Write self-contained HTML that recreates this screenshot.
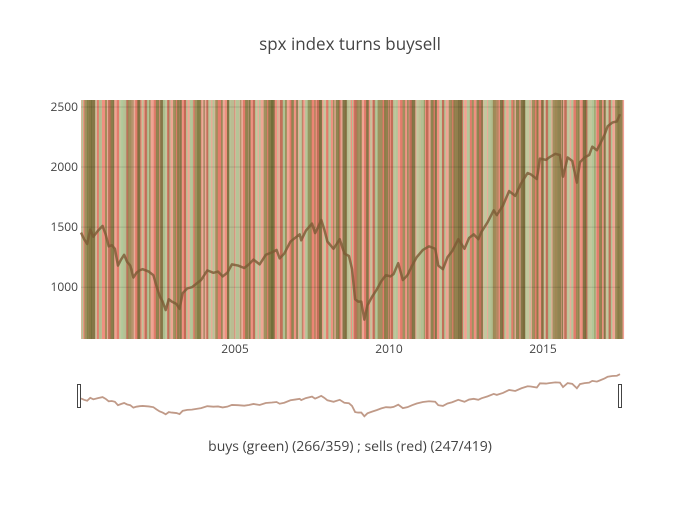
<!DOCTYPE html>
<html><head><meta charset="utf-8"><style>
body{margin:0;background:#fff;font-family:"Liberation Sans",sans-serif}
svg text{font-family:"Open Sans","Liberation Sans",sans-serif;fill:#444}
</style></head><body>
<svg id="c" width="700" height="500">
<text x="350" y="50" text-anchor="middle" font-size="17">spx index turns buysell</text>
<g id="plot"></g>
<text x="350" y="451" text-anchor="middle" font-size="14">buys (green) (266/359) ; sells (red) (247/419)</text>
</svg>
<script>
const priceDates=[2000.0,2000.1,2000.2,2000.3,2000.4,2000.55,2000.7,2000.8,2000.9,2001.0,2001.1,2001.2,2001.3,2001.4,2001.5,2001.6,2001.7,2001.8,2001.9,2002.0,2002.2,2002.35,2002.45,2002.55,2002.65,2002.75,2002.85,2002.95,2003.1,2003.2,2003.3,2003.45,2003.6,2003.75,2003.9,2004.1,2004.3,2004.45,2004.6,2004.75,2004.9,2005.1,2005.3,2005.45,2005.6,2005.8,2006.0,2006.2,2006.35,2006.45,2006.6,2006.8,2006.95,2007.1,2007.15,2007.3,2007.5,2007.6,2007.7,2007.8,2007.9,2008.0,2008.2,2008.4,2008.55,2008.7,2008.8,2008.9,2009.0,2009.1,2009.2,2009.3,2009.45,2009.6,2009.75,2009.9,2010.05,2010.15,2010.3,2010.45,2010.6,2010.75,2010.9,2011.1,2011.3,2011.5,2011.6,2011.75,2011.9,2012.05,2012.25,2012.45,2012.6,2012.75,2012.9,2013.0,2013.2,2013.4,2013.5,2013.7,2013.9,2014.1,2014.3,2014.5,2014.6,2014.8,2014.9,2015.1,2015.2,2015.4,2015.55,2015.65,2015.8,2015.95,2016.1,2016.2,2016.35,2016.5,2016.6,2016.75,2016.85,2017.0,2017.1,2017.25,2017.4,2017.5];
const priceValues=[1455,1400,1360,1480,1420,1470,1510,1440,1340,1350,1320,1180,1230,1270,1210,1180,1080,1120,1140,1150,1130,1100,1010,930,880,810,900,880,860,820,950,990,1000,1030,1060,1140,1120,1130,1090,1120,1190,1180,1160,1190,1230,1190,1270,1290,1310,1240,1280,1380,1410,1440,1390,1470,1530,1450,1500,1560,1480,1380,1320,1400,1280,1260,1150,900,880,880,730,850,920,980,1050,1100,1090,1110,1200,1060,1100,1180,1250,1310,1340,1320,1180,1150,1250,1300,1400,1320,1410,1440,1400,1460,1540,1640,1600,1680,1800,1760,1870,1950,1940,1900,2070,2060,2080,2110,2100,1920,2080,2050,1870,2040,2080,2100,2170,2140,2190,2270,2340,2370,2380,2440];
const buyDates=[2000.02,2000.11,2000.19,2000.33,2000.47,2000.58,2000.78,2000.96,2001.03,2001.24,2001.31,2001.52,2001.67,2001.83,2001.97,2002.14,2002.21,2002.43,2002.57,2002.66,2002.87,2002.99,2003.12,2003.19,2003.41,2003.53,2003.69,2003.77,2003.98,2004.13,2004.27,2004.36,2004.55,2004.74,2004.81,2005.02,2005.17,2005.33,2005.44,2005.65,2005.78,2005.93,2006.08,2006.16,2006.37,2006.55,2006.62,2006.83,2006.99,2007.07,2007.28,2007.36,2007.58,2007.73,2007.88,2008.03,2008.18,2008.27,2008.49,2008.63,2008.8,2008.95,2009.05,2009.26,2009.39,2009.54,2009.63,2009.84,2009.99,2010.13,2010.22,2010.44,2010.59,2010.74,2010.89,2011.04,2011.13,2011.35,2011.49,2011.64,2011.79,2011.94,2012.09,2012.24,2012.4,2012.53,2012.69,2012.84,2013.0,2013.07,2013.22,2013.37,2013.52,2013.6,2013.74,2013.89,2014.03,2014.12,2014.27,2014.42,2014.57,2014.64,2014.79,2014.94,2015.03,2015.16,2015.31,2015.47,2015.62,2015.77,2015.92,2016.07,2016.14,2016.29,2016.44,2016.59,2016.67,2016.82,2016.97,2017.05,2017.2,2017.34,2017.42];
const sellDates=[2000.07,2000.25,2000.39,2000.52,2000.66,2000.88,2001.09,2001.16,2001.38,2001.45,2001.6,2001.76,2001.9,2002.07,2002.29,2002.36,2002.51,2002.8,2002.93,2003.05,2003.27,2003.34,2003.47,2003.62,2003.85,2004.07,2004.2,2004.42,2004.67,2004.87,2005.09,2005.26,2005.51,2005.58,2005.86,2006.01,2006.24,2006.46,2006.7,2006.77,2006.92,2007.14,2007.21,2007.44,2007.51,2007.66,2007.81,2007.96,2008.11,2008.35,2008.42,2008.57,2008.72,2008.87,2009.12,2009.19,2009.33,2009.47,2009.7,2009.77,2009.92,2010.06,2010.29,2010.36,2010.51,2010.66,2010.81,2010.96,2011.09,2011.2,2011.28,2011.42,2011.56,2011.71,2011.86,2012.01,2012.16,2012.31,2012.46,2012.61,2012.76,2012.91,2013.14,2013.3,2013.44,2013.67,2013.81,2013.96,2014.19,2014.34,2014.49,2014.71,2014.86,2015.09,2015.23,2015.38,2015.54,2015.69,2015.84,2015.99,2016.21,2016.36,2016.51,2016.74,2016.89,2017.12,2017.27,2017.38,2017.47];
const yTicks=[1000,1500,2000,2500];
const xTicks=[2005,2010,2015];
const NS='http://www.w3.org/2000/svg';
const g=document.getElementById('plot');
const L=81,R=620,T=100,B=339,X0=2000.0,X1=2017.5,Y0=569,Y1=2558;
const xs=d=>L+(d-X0)/(X1-X0)*(R-L);
const ys=v=>B-(v-Y0)/(Y1-Y0)*(B-T);
function el(t,a){const e=document.createElementNS(NS,t);for(const k in a)e.setAttribute(k,a[k]);g.appendChild(e);return e;}
const bg=el('rect',{x:L,y:T,width:R-L,height:B-T,fill:'#e9ab98'});


const sw=[2,4,1.5,3,5,2.5,1,3.5];
const sc=['#f08a7a','#b8604a','#f4a090','#e07060'];
sellDates.forEach((d,i)=>{const r=el('rect',{x:xs(d),y:T,width:sw[(i*3)%8],height:B-T,fill:sc[(i*5)%4],opacity:0.8});

});
const bc=['#a8cc98','#7a7a40','#b8d0a0','#8e8a50','#6a6a35'];
buyDates.forEach((d,i)=>{const r=el('rect',{x:xs(d),y:T,width:sw[(i*5+2)%8],height:B-T,fill:bc[(i*3)%5],opacity:0.8});

});
yTicks.forEach(v=>{const l=el('line',{x1:L,x2:R,y1:ys(v),y2:ys(v),stroke:'#000','stroke-opacity':0.12});


const t=el('text',{x:L-3,y:ys(v)+4,'text-anchor':'end','font-size':12});t.textContent=v;

});
xTicks.forEach(v=>{const t=el('text',{x:xs(v),y:353,'text-anchor':'middle','font-size':12});t.textContent=v;

});
const pts=priceDates.map((d,i)=>xs(d)+','+ys(priceValues[i])).join(' ');
const pl=el('polyline',{points:pts,fill:'none',stroke:'#7a5a35','stroke-width':2.5,opacity:0.8,'stroke-linejoin':'round'});


const sT=374,sB=417,sMin=700,sMax=2450;
const sy=v=>sB-(v-sMin)/(sMax-sMin)*(sB-sT);
const sp=priceDates.map((d,i)=>xs(d)+','+sy(priceValues[i])).join(' ');
const sl=el('polyline',{points:sp,fill:'none',stroke:'#c09a88','stroke-width':1.8});


[77,618].forEach(x=>{const h=el('rect',{x:x+0.5,y:384.5,width:3,height:23,fill:'#fff',stroke:'#444'});

});
</script>
</body></html>
